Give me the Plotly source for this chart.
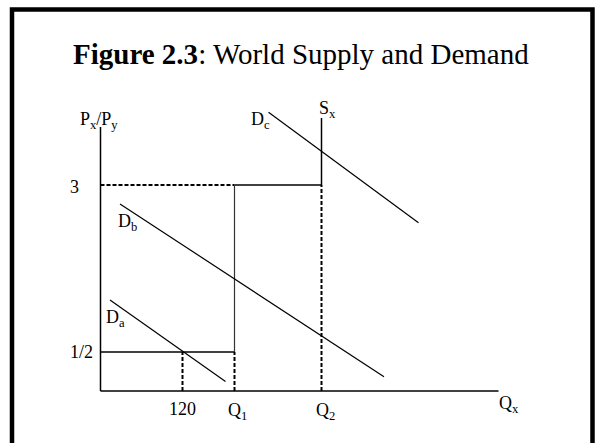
import plotly.graph_objects as go

# ---- Diagram values (schematic units: horizontal = quantity, vertical = relative price) ----
axis_x_end = 398          # end of Q_x axis
axis_y_top = 264          # top of P_x/P_y axis
p_high = 206              # price level "3"
p_low = 39                # price level "1/2"
q_120 = 82                # quantity 120
q_1 = 134                 # Q1
q_2 = 221                 # Q2
s_top = 273               # top of world supply S_x

da_x = [9.5, 125]
da_y = [91, 9.5]
db_x = [19.5, 283.5]
db_y = [187, 14.3]
dc_x = [168, 318]
dc_y = [278.7, 168.3]

title_bold = "Figure 2.3"
title_rest = ": World Supply and Demand"
y_tick_labels = ["3", "1/2"]
x_tick_labels = ["120", "Q<sub>1</sub>", "Q<sub>2</sub>"]

W, H = 595, 443
X0_PX, Y0_PX = 100.5, 391  # where origin sits in the figure

FONT = "Liberation Serif, Times New Roman, serif"
BLACK = "#000000"

fig = go.Figure()


def seg(xs, ys, width=1.3, dash=None, color=BLACK):
    fig.add_trace(go.Scatter(
        x=xs, y=ys, mode="lines",
        line=dict(color=color, width=width, dash=dash),
        hoverinfo="skip", showlegend=False))


DASH = "4px,2px"

# axes
seg([0, 0], [0, axis_y_top], width=1.5)
seg([0, axis_x_end], [0, 0], width=1.5)

# price 3 line: dashed to Q1 then solid to Q2
seg([0, q_1], [p_high, p_high], width=2, dash=DASH)
seg([q_1, q_2], [p_high, p_high], width=1.3)
# price 1/2 line
seg([0, q_1], [p_low, p_low], width=1.3)
# Q1 vertical
seg([q_1, q_1], [p_low, p_high], width=1.2, color="#333333")
seg([q_1, q_1], [0, p_low], width=2, dash=DASH)
# 120 vertical
seg([q_120, q_120], [0, p_low], width=2, dash=DASH)
# S_x supply
seg([q_2, q_2], [p_high, s_top], width=1.5)
seg([q_2, q_2], [0, p_high], width=2, dash=DASH)

# demand curves
seg(da_x, da_y, width=1.2)
seg(db_x, db_y, width=1.2)
seg(dc_x, dc_y, width=1.2)


def px_to_x(px):
    return px - X0_PX


def py_to_y(py):
    return Y0_PX - py


def label(text, px, py, xanchor="left", size=18):
    fig.add_annotation(
        x=px_to_x(px), y=py_to_y(py), xref="x", yref="y",
        text=text, showarrow=False, xanchor=xanchor, yanchor="middle",
        font=dict(family=FONT, size=size, color=BLACK))


# axis titles / curve labels
label("P<sub>x</sub>/P<sub>y</sub>", 98.5, 120, xanchor="center")
label("D<sub>c</sub>", 249, 120)
label("S<sub>x</sub>", 317, 109)
label("D<sub>b</sub>", 116, 222)
label("D<sub>a</sub>", 104, 318)
label("Q<sub>x</sub>", 497, 404)
# tick-like labels
label(y_tick_labels[0], 68, 187)
label(y_tick_labels[1], 68, 352)
label(x_tick_labels[0], q_120 + X0_PX, 409, xanchor="center")
label(x_tick_labels[1], 226, 411)
label(x_tick_labels[2], 314, 411)

# title
fig.add_annotation(
    x=301 / W, y=1 - 54 / H, xref="paper", yref="paper",
    text=f"<b>{title_bold}</b>{title_rest}", showarrow=False,
    xanchor="center", yanchor="middle",
    font=dict(family=FONT, size=29, color=BLACK))

# slide frame
fig.add_shape(type="rect", xref="paper", yref="paper",
              x0=12 / W, x1=592.5 / W, y0=-0.1, y1=1 - 9.5 / H,
              line=dict(color=BLACK, width=4.5), fillcolor="rgba(0,0,0,0)")

fig.update_layout(
    width=W, height=H,
    margin=dict(l=0, r=0, t=0, b=0),
    paper_bgcolor="white", plot_bgcolor="white",
    xaxis=dict(range=[-X0_PX, W - X0_PX], visible=False, fixedrange=True),
    yaxis=dict(range=[Y0_PX - H, Y0_PX], visible=False, fixedrange=True),
    showlegend=False,
)

fig.write_html(
    "out.html",
    config={"displayModeBar": False},
    post_script="document.body.style.margin='0';document.body.style.overflow='hidden';",
)
